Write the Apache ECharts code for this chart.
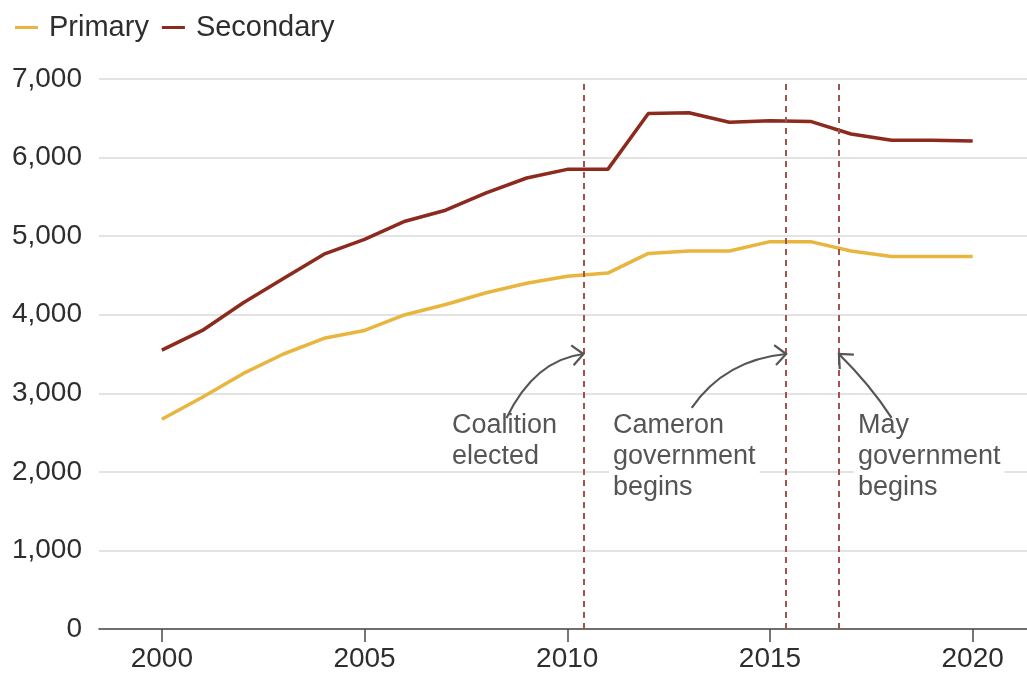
<!DOCTYPE html>
<html>
<head>
<meta charset="utf-8">
<script src="https://cdn.jsdelivr.net/npm/echarts@6/dist/echarts.min.js"></script>
<style>
  html, body { margin: 0; padding: 0; background: #fff; }
  #chart { width: 1027px; height: 674px; }
</style>
</head>
<body>
<div id="chart"></div>
<script>
// Funding per pupil, 2000-2020
const years = [2000, 2001, 2002, 2003, 2004, 2005, 2006, 2007, 2008, 2009, 2010,
               2011, 2012, 2013, 2014, 2015, 2016, 2017, 2018, 2019, 2020];
const primary = [2670, 2950, 3250, 3500, 3700, 3800, 4000, 4130, 4280, 4400, 4490,
                 4530, 4780, 4810, 4810, 4930, 4930, 4810, 4740, 4740, 4740];
const secondary = [3550, 3800, 4150, 4460, 4770, 4960, 5190, 5330, 5550, 5740, 5850,
                   5850, 6560, 6570, 6450, 6470, 6460, 6300, 6220, 6220, 6210];
const xTicks = [2000, 2005, 2010, 2015, 2020];
const yTicks = [0, 1000, 2000, 3000, 4000, 5000, 6000, 7000];

// Political events marked with dashed verticals (fractional years)
const eventYears = [2010.4, 2015.4, 2016.7];
const eventLabels = ['Coalition\nelected', 'Cameron\ngovernment\nbegins', 'May\ngovernment\nbegins'];

const FONT = '"Liberation Sans", Arial, Helvetica, sans-serif';
const PRIMARY_COLOR = '#e8b63f';
const SECONDARY_COLOR = '#8b2a1d';
const TEXT_COLOR = '#2e2e2e';

const pairs = arr => years.map((y, i) => [y, arr[i]]);

const chart = echarts.init(document.getElementById('chart'), null, { renderer: 'canvas' });

chart.setOption({
  animation: false,
  backgroundColor: '#fff',
  textStyle: { fontFamily: FONT },
  legend: {
    left: 10, top: 8,
    icon: 'rect',
    itemWidth: 23, itemHeight: 3,
    itemGap: 13,
    textStyle: { fontSize: 29, color: TEXT_COLOR, fontFamily: FONT, padding: [0, 0, 0, 6] },
    data: ['Primary', 'Secondary']
  },
  grid: { left: 99, right: 0, top: 79, bottom: 45, containLabel: false },
  xAxis: {
    type: 'value',
    min: 1998.45, max: 2021.34,
    axisLine: { show: true, lineStyle: { color: '#4a4a4a', width: 1.5 } },
    axisTick: { show: true, length: 13, customValues: xTicks, lineStyle: { color: '#4a4a4a', width: 1.5 } },
    axisLabel: {
      customValues: xTicks, margin: 16, fontSize: 28, color: TEXT_COLOR, fontFamily: FONT,
      formatter: v => String(v)
    },
    splitLine: { show: false }
  },
  yAxis: {
    type: 'value',
    min: yTicks[0], max: yTicks[yTicks.length - 1], interval: 1000,
    axisLine: { show: false },
    axisTick: { show: false },
    axisLabel: {
      margin: 17, fontSize: 28, color: TEXT_COLOR, fontFamily: FONT,
      formatter: v => v.toLocaleString('en-US')
    },
    splitLine: { lineStyle: { color: '#dadada', width: 1.5 } }
  },
  series: [
    {
      name: 'Primary', type: 'line', data: pairs(primary),
      symbol: 'none', color: PRIMARY_COLOR,
      lineStyle: { width: 3.5, color: PRIMARY_COLOR }, z: 3
    },
    {
      name: 'Secondary', type: 'line', data: pairs(secondary),
      symbol: 'none', color: SECONDARY_COLOR,
      lineStyle: { width: 3.5, color: SECONDARY_COLOR }, z: 3,
      markLine: {
        silent: true, symbol: 'none', animation: false,
        label: { show: false },
        lineStyle: { type: [6, 5], color: '#a0544b', width: 2 },
        data: eventYears.map(x => ({ xAxis: x }))
      }
    }
  ]
});

// Annotation geometry in data coordinates: text block top-left, arrow start, bend, tip
const annotations = [
  { text: eventLabels[0], at: [2007.06, 2790], from: [2008.50, 2684], bend: [2009.20, 3427], to: [eventYears[0], 3500], backdrop: false },
  { text: eventLabels[1], at: [2011.03, 2790], from: [2013.07, 2815], bend: [2013.89, 3427], to: [eventYears[1], 3500], backdrop: true },
  { text: eventLabels[2], at: [2017.07, 2790], from: [2018.00, 2688], bend: [2017.47, 3108], to: [eventYears[2], 3500], backdrop: true }
];

function px(p) { return chart.convertToPixel({ gridIndex: 0 }, p); }

const graphics = [];
annotations.forEach(a => {
  const t = px(a.at), s = px(a.from), c = px(a.bend), e = px(a.to);
  graphics.push({
    type: 'text', x: t[0], y: t[1], z: 10,
    style: {
      text: a.text, font: '27px ' + FONT, fill: '#555', lineHeight: 31,
      align: 'left', verticalAlign: 'top',
      backgroundColor: a.backdrop ? '#fff' : null, padding: [0, 4]
    }
  });
  graphics.push({
    type: 'bezierCurve', z: 10,
    shape: { x1: s[0], y1: s[1], cpx1: c[0], cpy1: c[1], x2: e[0], y2: e[1] },
    style: { stroke: '#555', lineWidth: 2.2, fill: null }
  });
  // open chevron head along the curve's end tangent
  const dx = e[0] - c[0], dy = e[1] - c[1];
  const len = Math.hypot(dx, dy);
  const ux = dx / len, uy = dy / len;
  const L = 15, ang = 42 * Math.PI / 180;
  const arm = sgn => {
    const ca = Math.cos(sgn * ang), sa = Math.sin(sgn * ang);
    const rx = ux * ca - uy * sa, ry = ux * sa + uy * ca;
    return [e[0] - L * rx, e[1] - L * ry];
  };
  graphics.push({
    type: 'polyline', z: 10,
    shape: { points: [arm(1), e, arm(-1)] },
    style: { stroke: '#555', lineWidth: 2.2, fill: null, lineJoin: 'miter' }
  });
});

chart.setOption({ graphic: graphics });
</script>
</body>
</html>
